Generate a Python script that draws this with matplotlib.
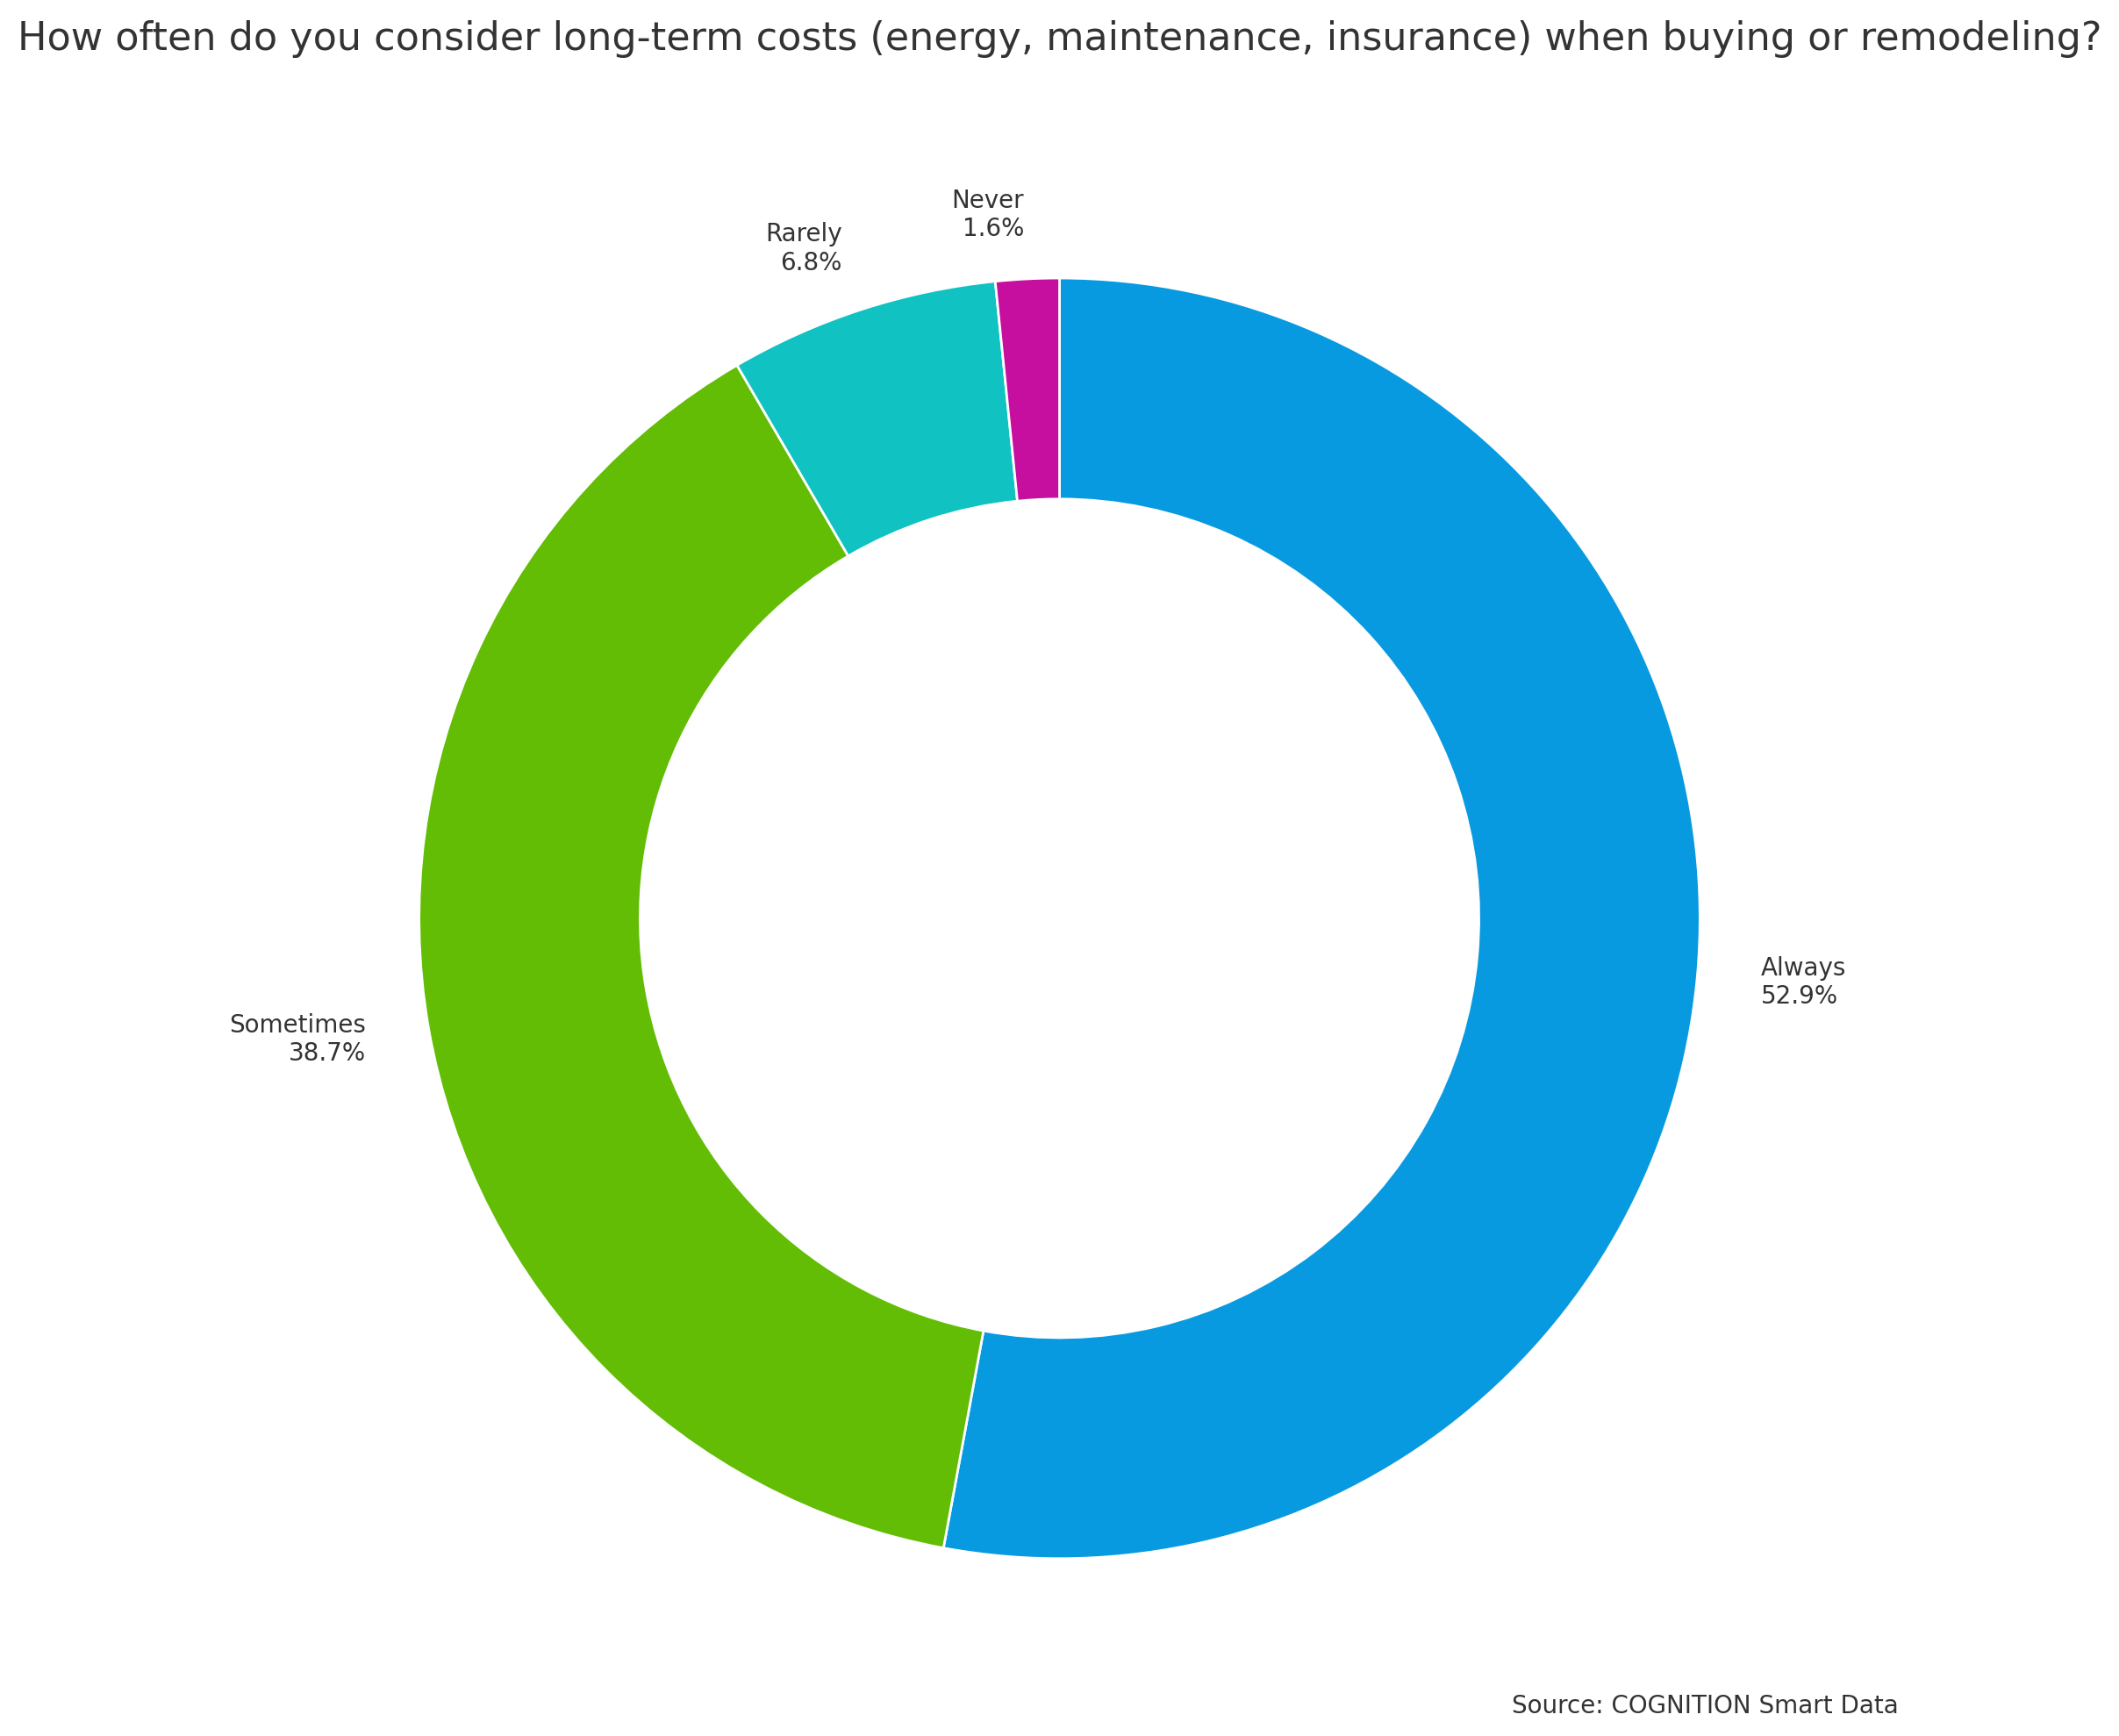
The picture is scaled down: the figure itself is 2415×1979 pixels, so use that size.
import matplotlib.pyplot as plt

# survey answers
labels = ["Always", "Sometimes", "Rarely", "Never"]
shares = [52.9, 38.7, 6.8, 1.6]
colors = ["#089ae0", "#62bd04", "#10c2c2", "#c70f9f"]

TEXT = "#333333"

plt.rcParams.update({"font.family": "DejaVu Sans", "text.color": TEXT})

fig, ax = plt.subplots(figsize=(12.075, 9.895), dpi=200)
fig.subplots_adjust(left=0.03, right=0.97, top=0.932, bottom=0.010)

pie_labels = [f"{lab}\n{val:.1f}%" for lab, val in zip(labels, shares)]

ax.pie(
    shares,
    labels=pie_labels,
    colors=colors,
    startangle=90,
    counterclock=False,
    labeldistance=1.1,
    wedgeprops={"width": 0.345, "edgecolor": "white", "linewidth": 1.0},
    textprops={"fontsize": 10, "color": TEXT},
)
ax.set_aspect("equal")

ax.set_title(
    "How often do you consider long-term costs (energy, maintenance, insurance) when buying or remodeling?",
    fontsize=16, color=TEXT, pad=28,
)

fig.text(0.896, 0.013, "Source: COGNITION Smart Data", ha="right", fontsize=10, color=TEXT)

plt.savefig("out.png", dpi=200)
